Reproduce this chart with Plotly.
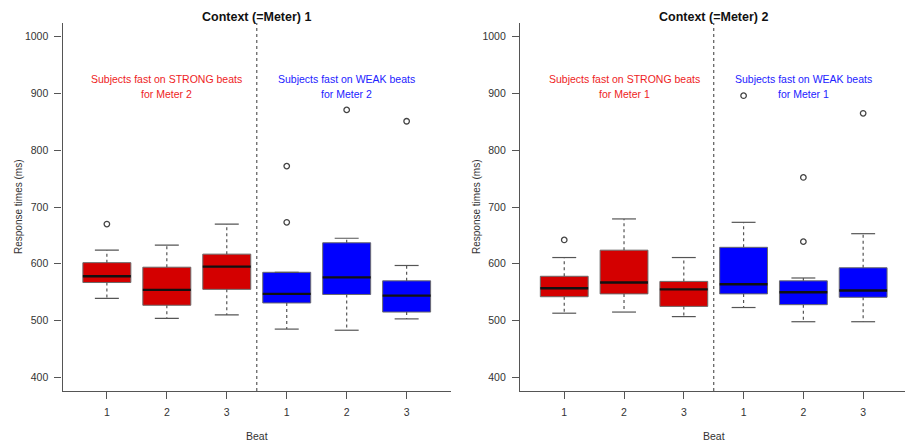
import plotly.graph_objects as go

# ---------------- data ----------------
positions = [1, 2, 3, 4, 5, 6]
beat_labels = ["1", "2", "3", "1", "2", "3"]
box_colors = ["#D40000", "#D40000", "#D40000", "#0000FF", "#0000FF", "#0000FF"]

ctx1_low = [539, 504, 510, 485, 483, 503]
ctx1_q1 = [567, 527, 555, 531, 546, 515]
ctx1_med = [578, 554, 595, 547, 576, 544]
ctx1_q3 = [602, 594, 617, 585, 637, 570]
ctx1_high = [624, 633, 670, 585, 645, 597]
ctx1_out_x = [1, 4, 4, 5, 6]
ctx1_out_y = [670, 772, 673, 871, 851]

ctx2_low = [513, 515, 507, 523, 498, 498]
ctx2_q1 = [542, 547, 525, 547, 528, 541]
ctx2_med = [557, 567, 555, 564, 550, 553]
ctx2_q3 = [578, 624, 569, 629, 570, 593]
ctx2_high = [611, 679, 611, 673, 575, 653]
ctx2_out_x = [1, 4, 5, 5, 6]
ctx2_out_y = [642, 896, 752, 639, 865]

panel_titles = ["Context (=Meter) 1", "Context (=Meter) 2"]
strong_text = [["Subjects fast on STRONG beats", "for Meter 2"],
               ["Subjects fast on STRONG beats", "for Meter 1"]]
weak_text = [["Subjects fast on WEAK beats", "for Meter 2"],
             ["Subjects fast on WEAK beats", "for Meter 1"]]
y_ticks = [400, 500, 600, 700, 800, 900, 1000]

# ---------------- styling ----------------
BOX_W = 0.8
CAP_W = 0.4
AXIS_COL = "#555555"
FONT = "Liberation Sans, Arial, sans-serif"

fig = go.Figure()

panels = [
    (ctx1_low, ctx1_q1, ctx1_med, ctx1_q3, ctx1_high, ctx1_out_x, ctx1_out_y),
    (ctx2_low, ctx2_q1, ctx2_med, ctx2_q3, ctx2_high, ctx2_out_x, ctx2_out_y),
]

for p, (low, q1, med, q3, high, ox, oy) in enumerate(panels):
    xa = "x" if p == 0 else "x2"
    ya = "y" if p == 0 else "y2"

    # dashed whiskers
    wx, wy = [], []
    cx, cy = [], []
    for i, xp in enumerate(positions):
        wx += [xp, xp, None, xp, xp, None]
        wy += [q3[i], high[i], None, q1[i], low[i], None]
        cx += [xp - CAP_W / 2, xp + CAP_W / 2, None, xp - CAP_W / 2, xp + CAP_W / 2, None]
        cy += [high[i], high[i], None, low[i], low[i], None]
    fig.add_trace(go.Scatter(x=wx, y=wy, mode="lines", xaxis=xa, yaxis=ya,
                             line=dict(color=AXIS_COL, width=1.2, dash="3px,3px"),
                             showlegend=False, hoverinfo="skip"))
    fig.add_trace(go.Scatter(x=cx, y=cy, mode="lines", xaxis=xa, yaxis=ya,
                             line=dict(color=AXIS_COL, width=1.2),
                             showlegend=False, hoverinfo="skip"))

    # boxes
    for i, xp in enumerate(positions):
        fig.add_trace(go.Box(
            x=[xp], q1=[q1[i]], median=[med[i]], q3=[q3[i]],
            lowerfence=[q1[i]], upperfence=[q3[i]],
            width=BOX_W, whiskerwidth=0,
            fillcolor=box_colors[i], line=dict(color="#6a6a6a", width=1),
            xaxis=xa, yaxis=ya, showlegend=False, boxpoints=False))

    # medians
    mx, my = [], []
    for i, xp in enumerate(positions):
        mx += [xp - BOX_W / 2, xp + BOX_W / 2, None]
        my += [med[i], med[i], None]
    fig.add_trace(go.Scatter(x=mx, y=my, mode="lines", xaxis=xa, yaxis=ya,
                             line=dict(color="#111111", width=2.4),
                             showlegend=False, hoverinfo="skip"))

    # outliers
    fig.add_trace(go.Scatter(x=ox, y=oy, mode="markers", xaxis=xa, yaxis=ya,
                             marker=dict(symbol="circle-open", size=5.5,
                                         color="#444444", line=dict(width=1.3)),
                             showlegend=False, hoverinfo="skip"))

    # separator line
    fig.add_trace(go.Scatter(x=[3.5, 3.5], y=[376, 1024], mode="lines", xaxis=xa, yaxis=ya,
                             line=dict(color="#666666", width=1.3, dash="3px,3px"),
                             showlegend=False, hoverinfo="skip"))

    # text annotations
    for j, line in enumerate(strong_text[p]):
        fig.add_annotation(x=2, y=[925.5, 899][j], xref=xa, yref=ya, text=line,
                           showarrow=False, xanchor="center", yanchor="middle",
                           font=dict(family=FONT, size=10.5, color="#EE1C24"))
    for j, line in enumerate(weak_text[p]):
        fig.add_annotation(x=5, y=[925.5, 899][j], xref=xa, yref=ya, text=line,
                           showarrow=False, xanchor="center", yanchor="middle",
                           font=dict(family=FONT, size=10.5, color="#2222FF"))

    # titles
    fig.add_annotation(x=3.5, y=1 - 17 / 442, xref=xa, yref="paper",
                       text="<b>" + panel_titles[p] + "</b>", showarrow=False,
                       xanchor="center", yanchor="middle",
                       font=dict(family=FONT, size=12.5, color="#111111"))
    fig.add_annotation(x=3.5, y=1 - 436 / 442, xref=xa, yref="paper", text="Beat",
                       showarrow=False, xanchor="center", yanchor="middle",
                       font=dict(family=FONT, size=10.5, color="#333333"))

fig.add_annotation(x=18 / 905, y=1 - 207 / 442, xref="paper", yref="paper",
                   text="Response times (ms)", textangle=-90, showarrow=False,
                   xanchor="center", yanchor="middle",
                   font=dict(family=FONT, size=10, color="#333333"))
fig.add_annotation(x=476 / 905, y=1 - 207 / 442, xref="paper", yref="paper",
                   text="Response times (ms)", textangle=-90, showarrow=False,
                   xanchor="center", yanchor="middle",
                   font=dict(family=FONT, size=10, color="#333333"))

xcommon = dict(tickvals=positions, ticktext=beat_labels, ticks="outside", ticklen=7,
               tickcolor=AXIS_COL, tickwidth=1.2, showline=True, linecolor=AXIS_COL,
               linewidth=1.3, showgrid=False, zeroline=False,
               tickfont=dict(family=FONT, size=10.5, color="#333333"),
               ticklabelstandoff=4, fixedrange=True)
ycommon = dict(tickvals=y_ticks, ticks="outside", ticklen=7, tickcolor=AXIS_COL,
               tickwidth=1.2, showline=True, linecolor=AXIS_COL, linewidth=1.3,
               showgrid=False, zeroline=False, range=[376, 1024],
               tickfont=dict(family=FONT, size=10.5, color="#333333"),
               ticklabelstandoff=4, fixedrange=True)

fig.update_layout(
    width=905, height=442,
    margin=dict(l=0, r=0, t=0, b=0),
    paper_bgcolor="white", plot_bgcolor="white",
    showlegend=False,
    xaxis=dict(domain=[62.5 / 905, 451 / 905], range=[0.26, 6.74], anchor="y", **xcommon),
    yaxis=dict(domain=[51 / 442, 419 / 442], anchor="x", **ycommon),
    xaxis2=dict(domain=[520 / 905, 1.0], range=[0.26, 6.70], anchor="y2", **xcommon),
    yaxis2=dict(domain=[51 / 442, 419 / 442], anchor="x2", **ycommon),
)

fig.write_html("out.html", config={"displayModeBar": False},
               post_script="document.body.style.margin='0px';")
